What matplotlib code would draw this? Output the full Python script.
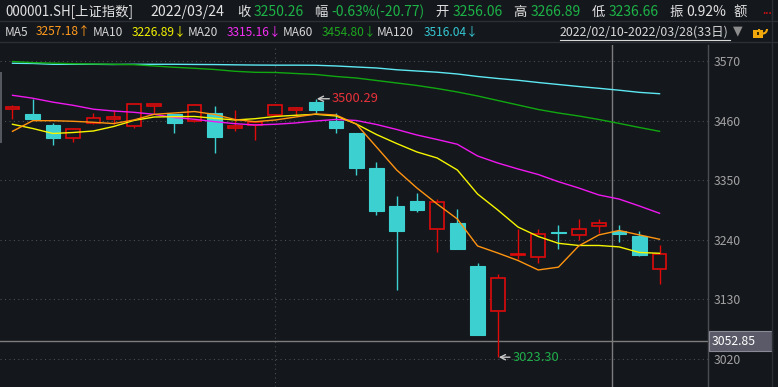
import matplotlib
matplotlib.use('Agg')
import matplotlib.pyplot as plt
from matplotlib.patches import Rectangle, Arc
from matplotlib.transforms import blended_transform_factory
import numpy as np

plt.rcParams['font.family'] = ['Noto Sans CJK SC', 'DejaVu Sans']

# ---------------- data ----------------
dates = ['02/10', '02/11', '02/14', '02/15', '02/16', '02/17', '02/18', '02/21', '02/22',
         '02/23', '02/24', '02/25', '02/28', '03/01', '03/02', '03/03', '03/04', '03/07',
         '03/08', '03/09', '03/10', '03/11', '03/14', '03/15', '03/16', '03/17', '03/18',
         '03/21', '03/22', '03/23', '03/24', '03/25', '03/28']
opens = [3482.0, 3472.0, 3452.0, 3428.0, 3455.6, 3463.0, 3450.6, 3487.0, 3472.2, 3459.3,
         3474.0, 3445.8, 3451.0, 3470.3, 3479.0, 3494.3, 3459.3, 3437.1, 3372.5, 3302.4,
         3311.6, 3259.4, 3271.6, 3191.7, 3108.0, 3211.4, 3207.7, 3254.0, 3249.4, 3264.9,
         3256.06, 3247.6, 3185.6]
highs = [3489.0, 3500.0, 3456.0, 3447.0, 3474.0, 3479.6, 3491.0, 3491.0, 3473.0, 3490.6,
         3487.0, 3479.6, 3458.0, 3490.0, 3485.6, 3500.29, 3473.5, 3437.5, 3383.6, 3320.8,
         3326.4, 3315.3, 3296.9, 3197.7, 3176.3, 3259.9, 3259.4, 3267.3, 3278.4, 3278.4,
         3266.89, 3256.2, 3230.4]
lows = [3463.0, 3462.0, 3415.0, 3421.0, 3453.7, 3453.7, 3447.0, 3474.0, 3437.7, 3458.0,
        3400.8, 3441.4, 3425.0, 3469.0, 3470.3, 3474.0, 3437.7, 3359.6, 3286.3, 3147.9,
        3291.9, 3218.0, 3223.0, 3064.0, 3023.30, 3204.0, 3197.7, 3223.6, 3239.6, 3252.0,
        3236.66, 3210.0, 3159.0]
closes = [3485.0, 3463.0, 3428.4, 3444.5, 3464.8, 3466.6, 3490.6, 3490.6, 3456.1, 3488.8,
          3430.3, 3450.0, 3457.0, 3488.8, 3483.3, 3479.6, 3446.9, 3373.1, 3293.7, 3256.8,
          3295.6, 3309.8, 3223.6, 3064.9, 3168.9, 3214.4, 3250.7, 3253.0, 3259.9, 3271.0,
          3250.26, 3212.5, 3213.8]
ma5 = [3440.2, 3459.8, 3459.8, 3458.7, 3456.9, 3454.5, 3461.1, 3471.6, 3474.0, 3476.7,
       3471.3, 3462.0, 3458.0, 3461.1, 3466.6, 3472.2, 3470.3, 3453.7, 3411.3, 3368.8,
       3335.6, 3306.1, 3278.4, 3228.6, 3215.6, 3201.8, 3184.3, 3189.5, 3228.6, 3249.0,
       3257.18, 3249.0, 3241.0]
ma10 = [3453.2, 3445.4, 3436.2, 3438.0, 3440.8, 3449.1, 3460.2, 3466.6, 3467.2, 3467.6,
        3464.2, 3461.1, 3463.5, 3467.6, 3469.8, 3471.6, 3468.5, 3453.7, 3434.3, 3417.7,
        3402.1, 3391.0, 3368.8, 3324.5, 3295.0, 3263.6, 3246.1, 3233.5, 3229.5, 3229.5,
        3226.89, 3216.6, 3215.1]
ma20 = [3506.7, 3501.3, 3494.0, 3488.2, 3481.0, 3477.7, 3475.3, 3471.6, 3465.7, 3462.4,
        3458.0, 3454.3, 3451.9, 3453.2, 3455.6, 3459.3, 3462.1, 3460.2, 3452.8, 3443.6,
        3433.4, 3425.1, 3416.3, 3394.7, 3381.7, 3370.7, 3360.5, 3347.2, 3335.6, 3322.7,
        3315.16, 3302.4, 3288.9]
ma60 = [3569.0, 3567.0, 3566.0, 3565.0, 3564.5, 3564.0, 3563.2, 3560.8, 3558.4, 3556.5,
        3554.3, 3551.0, 3549.1, 3548.8, 3546.9, 3545.1, 3541.4, 3538.6, 3534.0, 3529.4,
        3524.8, 3519.2, 3512.8, 3505.4, 3497.1, 3488.8, 3480.5, 3474.0, 3468.5, 3462.0,
        3454.80, 3447.3, 3440.2]
ma120 = [3565.8, 3565.4, 3563.9, 3563.9, 3563.9, 3563.5, 3563.9, 3563.9, 3563.9, 3563.6,
         3563.4, 3562.9, 3562.5, 3562.3, 3562.3, 3562.1, 3560.8, 3558.9, 3557.1, 3553.8,
         3551.5, 3549.3, 3546.0, 3541.4, 3537.7, 3534.4, 3530.3, 3526.6, 3522.9, 3519.6,
         3516.04, 3512.1, 3509.6]
yticks = [3020, 3130, 3240, 3350, 3460, 3570]
cross_price = 3052.85
cross_index = 30
high_label = '3500.29'
low_label = '3023.30'

header1 = [  # (text, x_px, color, size)
    ('000001.SH[上证指数]', 5, '#e2e2e2', 9.6),
    ('2022/03/24', 150, '#e2e2e2', 10.1),
    ('收', 237, '#e2e2e2', 9.6), ('3250.26', 254, '#1db347', 10.0),
    ('幅', 314, '#e2e2e2', 9.6), ('-0.63%(-20.77)', 331, '#1db347', 10.0),
    ('开', 435, '#e2e2e2', 9.6), ('3256.06', 453, '#1db347', 10.0),
    ('高', 513, '#e2e2e2', 9.6), ('3266.89', 531, '#1db347', 10.0),
    ('低', 592, '#e2e2e2', 9.6), ('3236.66', 609, '#1db347', 10.0),
    ('振', 669, '#e2e2e2', 9.6), ('0.92%', 686, '#e2e2e2', 10.0),
    ('额', 733, '#e2e2e2', 9.6),
]
header2 = [
    ('MA5', 5, '#d6d6d6'), ('3257.18↑', 36, '#ff9a1e'),
    ('MA10', 93, '#d6d6d6'), ('3226.89↓', 132, '#f2f200'),
    ('MA20', 188, '#d6d6d6'), ('3315.16↓', 227, '#f22ef2'),
    ('MA60', 283, '#d6d6d6'), ('3454.80↓', 322, '#1ea81e'),
    ('MA120', 377, '#d6d6d6'), ('3516.04↓', 424, '#35c8d2'),
]
range_text = '2022/02/10-2022/03/28(33日)'

# ---------------- style ----------------
W, H = 778, 387
BG = '#14171c'
RED = '#e00a0a'
CYAN = '#3cd0d0'
GRID = '#4a4d52'

fig = plt.figure(figsize=(W / 100, H / 100), dpi=100)
fig.patch.set_facecolor(BG)

ax = fig.add_axes([0, 0, 708 / W, (H - 45) / H])
ax.set_facecolor(BG)

n = len(dates)
x = np.arange(n)
o = np.array(opens); c = np.array(closes); h = np.array(highs); l = np.array(lows)
up = c >= o
dn = ~up

# grid
for t in yticks:
    ax.axhline(t, color=GRID, lw=0.8, ls=(0, (1, 3)), zorder=1)
ax.axvline(dates.index('03/01'), color=GRID, lw=0.8, ls=(0, (1, 3)), zorder=1)

# crosshair
ax.axvline(cross_index - 0.37, color='#7c7c7c', lw=1.0, zorder=2)
ax.axhline(cross_price, color='#7c7c7c', lw=1.0, zorder=2)

# wicks
ax.vlines(x[dn], l[dn], h[dn], color=CYAN, lw=1.0, zorder=3)
ax.vlines(x[up], c[up], h[up], color=RED, lw=1.0, zorder=3)
ax.vlines(x[up], l[up], o[up], color=RED, lw=1.0, zorder=3)
# bodies
ax.bar(x[dn], np.maximum(o[dn] - c[dn], 0.6), bottom=c[dn], width=0.72,
       color=CYAN, edgecolor=CYAN, lw=0.8, zorder=4)
ax.bar(x[up], np.maximum(c[up] - o[up], 0.6), bottom=o[up], width=0.68,
       facecolor=BG, edgecolor=RED, lw=1.2, zorder=4)

# moving averages
ax.plot(x, ma120, color='#5ee8f2', lw=1.0, zorder=5)
ax.plot(x, ma60, color='#10a810', lw=1.0, zorder=5)
ax.plot(x, ma20, color='#f018f0', lw=1.0, zorder=5)
ax.plot(x, ma10, color='#f5f500', lw=1.0, zorder=5)
ax.plot(x, ma5, color='#ff9410', lw=1.0, zorder=5)

# high / low annotations
ih = int(np.argmax(h)); il = int(np.argmin(l))
ax.annotate(high_label, xy=(ih + 0.05, h[ih]), xytext=(11, 0), textcoords='offset points',
            ha='left', va='center', color='#e8323a', fontsize=9.3,
            arrowprops=dict(arrowstyle='->', color='#c8c8c8', lw=1.0, shrinkA=0, shrinkB=0),
            zorder=6)
ax.annotate(low_label, xy=(il + 0.05, l[il]), xytext=(10, 0), textcoords='offset points',
            ha='left', va='center', color='#1fae4a', fontsize=9.3,
            arrowprops=dict(arrowstyle='->', color='#c8c8c8', lw=1.0, shrinkA=0, shrinkB=0),
            zorder=6)

ax.set_xlim(-12.5 / 20.22, (708 - 12.5) / 20.22)
ax.set_ylim(2968.3, 3599.5)
ax.set_xticks([])
ax.yaxis.tick_right()
ax.set_yticks(yticks)
ax.tick_params(axis='y', length=0, pad=4, labelcolor='#a2a2a2', labelsize=8.8)
for s in ['top', 'left', 'bottom']:
    ax.spines[s].set_visible(False)
ax.spines['right'].set_color('#4a4d52')
ax.spines['right'].set_linewidth(1.0)

# crosshair price box
tr = blended_transform_factory(ax.transAxes, ax.transData)
ax.add_patch(Rectangle((1.0015, cross_price - 18.5), 63 / 708, 37, transform=tr,
                       facecolor='#5a5a68', edgecolor='#8a8a96', lw=0.8, clip_on=False, zorder=7))
ax.text(1.005, cross_price, f'{cross_price:.2f}', transform=tr, ha='left', va='center',
        color='white', fontsize=8.8, clip_on=False, zorder=8)

# ---------------- overlay (header, frame) ----------------
ov = fig.add_axes([0, 0, 1, 1], facecolor='none')
ov.set_xlim(0, W); ov.set_ylim(H, 0); ov.axis('off')
ov.plot([0, W], [21, 21], color='#2c2f35', lw=1)
ov.plot([0, W], [42, 42], color='#2c2f35', lw=1)
ov.plot([772, 772], [0, H], color='#2c2f35', lw=1)
ov.add_patch(Rectangle((0, 72), 2, 71, color='#55585e', lw=0))

for txt, px, col, fs in header1:
    ov.text(px, 12, txt, color=col, fontsize=fs, ha='left', va='center')
ov.text(762, 11, '...', color='#e01010', fontsize=7, ha='left', va='center', fontweight='bold')
for txt, px, col in header2:
    ov.text(px, 32, txt, color=col, fontsize=8.6, ha='left', va='center')
ov.text(560, 32, range_text, color='#d8d8d8', fontsize=8.9, ha='left', va='center')
ov.plot([560, 730], [40, 40], color='#d8d8d8', lw=0.8)
ov.text(733, 31, '▼', color='#8c8c8c', fontsize=9, ha='left', va='center', family='DejaVu Sans')
# lock icon
ov.add_patch(Rectangle((753, 30), 10, 8, facecolor='#f0a80c', edgecolor='none'))
ov.add_patch(Rectangle((757, 32), 2, 3, facecolor='#3a2a00', edgecolor='none'))
ov.add_patch(Arc((763, 29), 8, 9, theta1=0, theta2=180, color='#f0a80c', lw=1.5))

fig.savefig('out.png', dpi=100, facecolor=BG)
